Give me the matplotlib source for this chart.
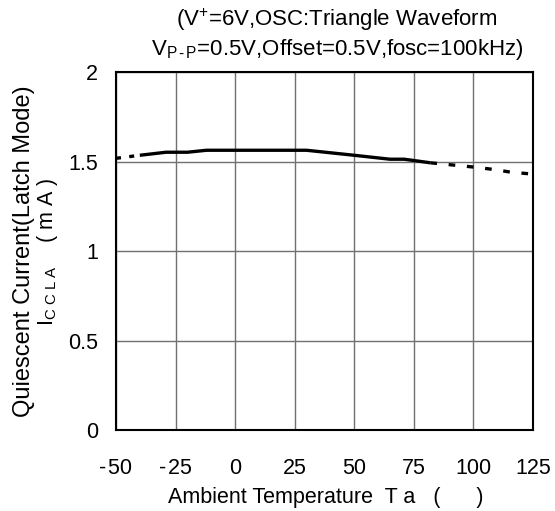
import matplotlib
matplotlib.use('Agg')
import matplotlib.pyplot as plt

plt.rcParams['font.family'] = ['Liberation Sans', 'DejaVu Sans']
plt.rcParams['mathtext.fontset'] = 'custom'
plt.rcParams['mathtext.rm'] = 'Liberation Sans'
plt.rcParams['mathtext.it'] = 'Liberation Sans'

# measured curve, split where the reference switches line style
temp_lo = [-50, -40]
icc_lo = [1.518, 1.535]
temp_mid = [-40, -29, -20, -12, 0, 30, 50, 65, 71, 82]
icc_mid = [1.535, 1.552, 1.552, 1.563, 1.563, 1.563, 1.535, 1.513, 1.513, 1.493]
temp_hi = [82, 92, 101, 109, 116, 125]
icc_hi = [1.493, 1.48, 1.468, 1.455, 1.44, 1.43]

xticks = [-50, -25, 0, 25, 50, 75, 100, 125]
xtick_labels = ['-\u200a50', '-\u200a25', '0', '25', '50', '75', '100', '125']
yticks = [0, 0.5, 1, 1.5, 2]
ytick_labels = ['0', '0.5', '1', '1.5', '2']

fig = plt.figure(figsize=(5.55, 5.11), dpi=100)
ax = fig.add_axes([0.209, 0.1585, 0.751, 0.7005])

ax.plot(temp_lo, icc_lo, color='black', lw=2.4, ls=(0, (1.5, 2.5)))
ax.plot(temp_mid, icc_mid, color='black', lw=2.4, solid_capstyle='butt')
ax.plot(temp_hi, icc_hi, color='black', lw=2.4, ls=(0, (2, 3.5)))

ax.set_xlim(-50, 125)
ax.set_ylim(0, 2)
ax.set_xticks(xticks)
ax.set_xticklabels(xtick_labels)
ax.set_yticks(yticks)
ax.set_yticklabels(ytick_labels)
ax.tick_params(length=0, labelsize=15.5)
ax.tick_params(axis='x', pad=20)
ax.tick_params(axis='y', pad=13)
ax.grid(True, color='#707070', lw=1)
for s in ax.spines.values():
    s.set_linewidth(1.5)

fig.text(0.587, 1 - 498 / 511, 'Ambient Temperature  T a   (      )',
         fontsize=15.5, ha='center', va='center')
fig.text(24 / 555, 1 - 251 / 511, 'Quiescent Current(Latch Mode)',
         fontsize=17, rotation=90, ha='center', va='center')
fig.text(48 / 555, 1 - 252 / 511, r'I$_{\mathrm{C\ C\ L\ A}}$    ( m A )',
         fontsize=15.5, rotation=90, ha='center', va='center')
fig.text(337 / 555, 1 - 20 / 511, '(V$^{+}$=6V,OSC:Triangle Waveform',
         fontsize=16, ha='center', va='center')
fig.text(337 / 555, 1 - 49 / 511, r'V$_{\mathrm{P\,\text{-}\,P}}$=0.5V,Offset=0.5V,fosc=100kHz)',
         fontsize=16, ha='center', va='center')

fig.savefig('out.png', dpi=100)
